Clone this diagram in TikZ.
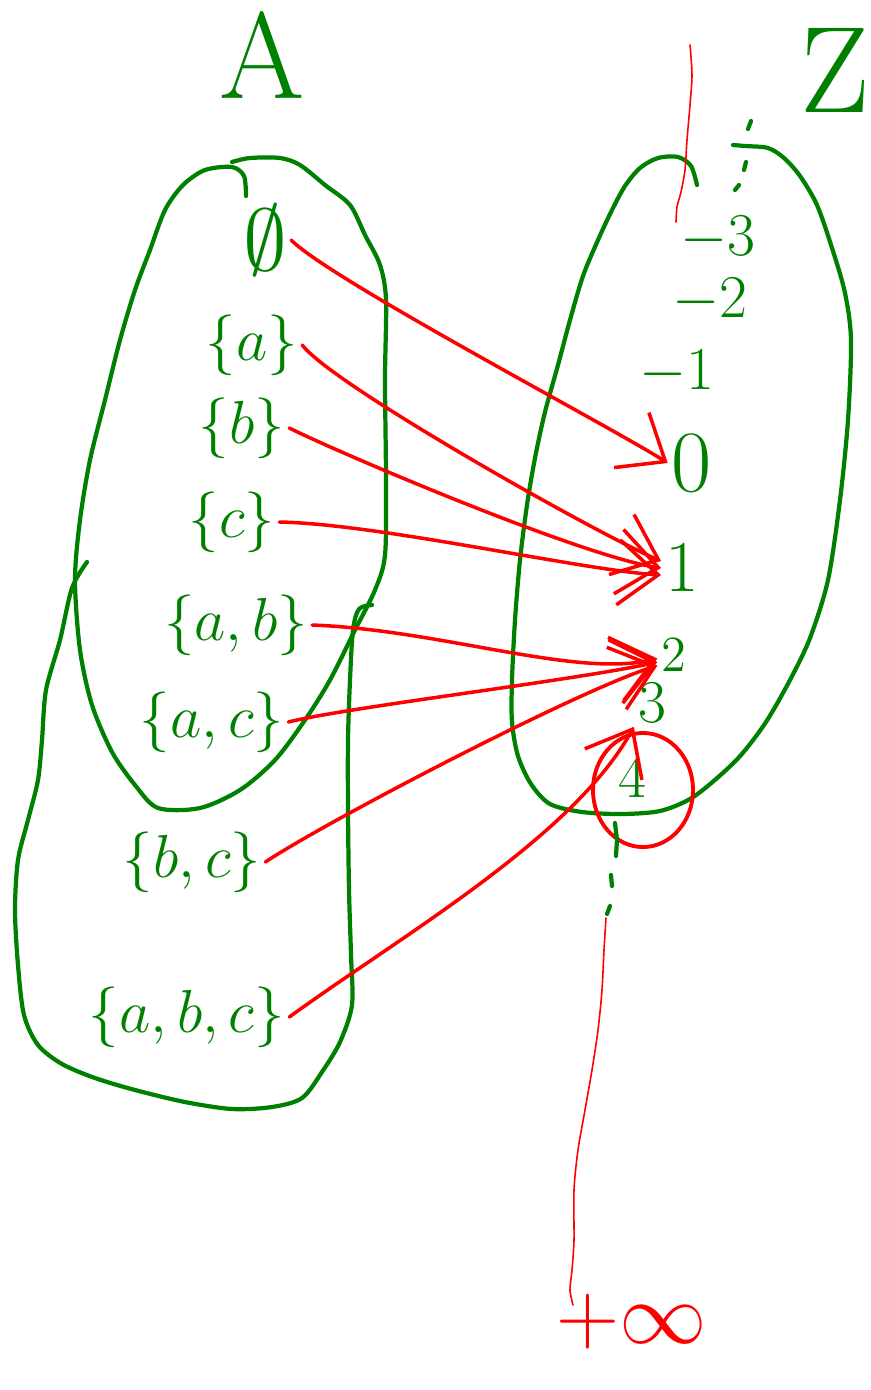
\documentclass[tikz,border=0pt]{standalone}
\usetikzlibrary{arrows.meta, positioning}
\definecolor{pen}{HTML}{008000}
\definecolor{ink}{HTML}{FF0000}
\tikzset{el/.style={line cap=round, line join=round},
  blob/.style={pen, line width=1.2pt},
  setl/.style={text=pen, inner sep=1pt, font=\fontsize{17}{20}\selectfont},
  numl/.style={text=pen, inner sep=1pt, font=\fontsize{18}{20}\selectfont},
  bigl/.style={text=pen, inner sep=1pt, font=\fontsize{35}{40}\selectfont},
  maps/.style={ink, line width=1pt, -{Straight Barb[length=4mm,width=6.5mm]}},
  axis/.style={ink, line width=0.45pt}}

\begin{document}
\begin{tikzpicture}[el, x=0.01cm, y=-0.01cm]
  \useasboundingbox (0,0) rectangle (871,1390);
  \node[bigl] (setA) at (262,55) {A};
  \node[bigl] (setZ) at (835,70) {Z};
  % the two sets
  \draw[blob] plot[smooth] coordinates {(246,196) (244,176) (232,167) (205,170) (183,185) (165,210) (150,250) (135,290) (120,340) (105,400) (90,460) (80,520) (75,580) (80,650) (92,705) (112,752) (135,785) (158,808) (200,808) (240,790) (275,760) (305,720) (330,680) (355,630) (375,590) (385,555) (386,480) (385,380) (386,300) (380,265) (365,235) (350,205) (325,185) (300,165) (280,158) (250,158) (232,162)};
  \draw[blob] plot[smooth] coordinates {(87,562) (72,588) (60,640) (46,690) (42,740) (38,780) (28,820) (18,860) (15,910) (18,965) (24,1015) (38,1045) (62,1064) (95,1078) (135,1090) (185,1102) (232,1109) (272,1107) (302,1098) (322,1072) (340,1042) (352,1005) (351,955) (349,890) (348,810) (348,740) (350,680) (353,630) (359,609) (372,605)};
  \draw[blob] plot[smooth] coordinates {(697,185) (691,166) (678,157) (658,158) (640,168) (625,186) (612,210) (598,240) (583,276) (570,320) (558,365) (545,412) (535,458) (527,505) (520,560) (515,620) (512,680) (512,722) (518,756) (531,784) (550,804) (582,812) (622,814) (660,811) (690,799) (716,779) (741,755) (766,722) (790,680) (810,638) (828,580) (840,500) (848,420) (851,340) (845,293) (832,248) (817,205) (800,176) (784,158) (768,148) (745,146) (733,145)};
  % elements
  \node[setl, font=\fontsize{24}{26}\selectfont] (emp) at (265,240) {$\emptyset$};
  \node[setl] (sa) at (252,345) {$\{a\}$};
  \node[setl] (sb) at (242,428) {$\{b\}$};
  \node[setl] (sc) at (232,522) {$\{c\}$};
  \node[setl] (sab) at (236,625) {$\{a,b\}$};
  \node[setl] (sac) at (212,722) {$\{a,c\}$};
  \node[setl] (sbc) at (192,862) {$\{b,c\}$};
  \node[setl] (sabc) at (187,1017) {$\{a,b,c\}$};
  \node[numl] (nm3) at (718,238) {$-3$};
  \node[numl] (nm2) at (710,300) {$-2$};
  \node[numl] (nm1) at (677,372) {$-1$};
  \node[numl, font=\fontsize{23}{25}\selectfont] (n0) at (692,463) {$0$};
  \node[numl, font=\fontsize{22}{25}\selectfont] (n1) at (682,568) {$1$};
  \node[numl, font=\fontsize{14}{16}\selectfont] (n2) at (674,655) {$2$};
  \node[numl, font=\fontsize{16}{18}\selectfont] (n3) at (652,703) {$3$};
  \node[numl] (n4) at (632,778) {$4$};
  \node[text=ink, inner sep=1pt, font=\fontsize{30}{32}\selectfont] (inf) at (632,1322) {$+\infty$};
  \draw[ink, line width=1.1pt] ([shift={(11,12)}]n4) ellipse [x radius=0.5cm, y radius=0.57cm];
  % dots above and below
  \draw[blob] (751,121)--(748,129) (746,162)--(744,170) (739,185)--(735,190);
  \draw[blob] (615,823)--(617,840)--(616,856) (611,875)--(612,886) (610,906)--(607,914);
  % the line of integers
  \draw[axis] plot[smooth] coordinates {(690,45) (692,75) (690,105) (687,140) (685,170) (681,192) (677,207) (676,222)};
  \draw[axis] plot[smooth] coordinates {(606,918) (604,950) (602,990) (598,1030) (592,1070) (585,1110) (578,1150) (574,1190) (574,1240) (572,1270) (570,1290) (573,1305)};
  % the map
  \draw[maps] (emp.east) .. controls +(40,40) and +(-60,-38) .. (n0.west);
  \draw[maps] (sa.east) .. controls +(30,40) and +(-60,-25) .. ([yshift=2pt]n1.west);
  \draw[maps] (sb.east) .. controls +(50,25) and +(-80,-12) .. (n1.west);
  \draw[maps] (sc.east) .. controls +(100,2) and +(-80,-5) .. ([yshift=-2pt]n1.west);
  \draw[maps] (sab.east) .. controls +(130,5) and +(-80,20) .. ([yshift=-1pt]n2.west);
  \draw[maps] (sac.east) .. controls +(60,-15) and +(-80,18) .. ([yshift=-2pt]n2.west);
  \draw[maps] (sbc.east) .. controls +(60,-40) and +(-80,25) .. ([yshift=-3pt]n2.west);
  \draw[maps] (sabc.east) .. controls +(110,-80) and +(-60,110) .. (n3.south west);
\end{tikzpicture}
\end{document}
